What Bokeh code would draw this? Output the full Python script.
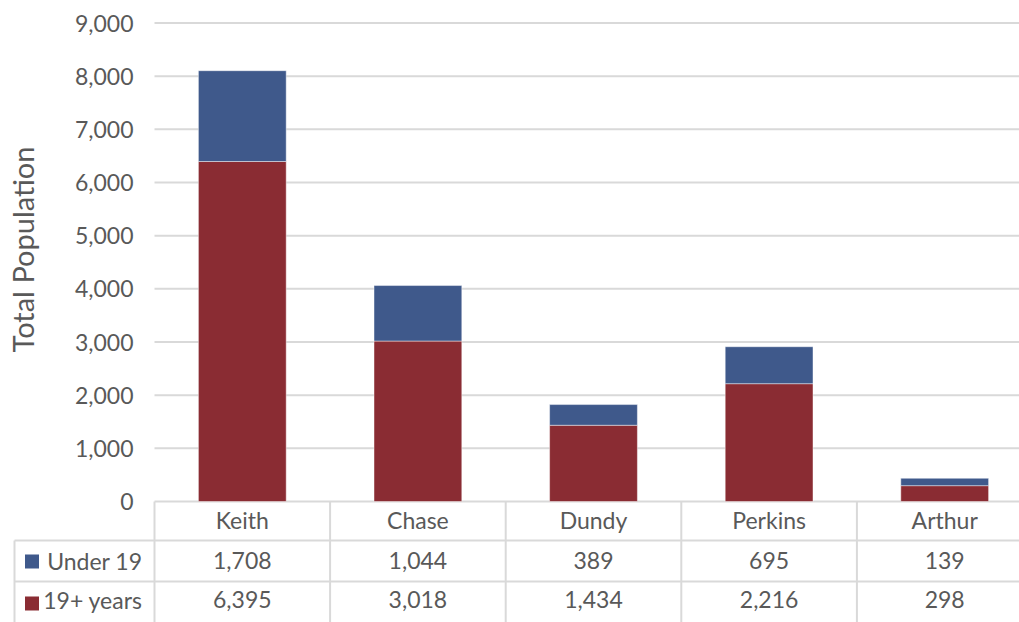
import math
from bokeh.plotting import figure
from bokeh.models import ColumnDataSource, Range1d
from bokeh.core.properties import value
from bokeh.embed import file_html
from bokeh.resources import INLINE

# ---------------- data ----------------
categories = ["Keith", "Chase", "Dundy", "Perkins", "Arthur"]
under_19 = [1708, 1044, 389, 695, 139]
years_19_plus = [6395, 3018, 1434, 2216, 298]
series_names = ["Under 19", "19+ years"]
y_ticks = [0, 1000, 2000, 3000, 4000, 5000, 6000, 7000, 8000, 9000]
y_title = "Total Population"

# ---------------- style ----------------
BLUE = "#3F598B"
RED = "#8A2C33"
GRID = "#D9D9D9"
TEXT = "#595959"
FONT = value("Lato")
FS = value("23px")

# layout, in pixels of the 1019x622 page (the Bokeh page has no body margin)
PAGE = 0
FIG_W, FIG_H = 1019, 622
PLOT_LEFT = 154          # left edge of the plot area / table body
CELL_W = 175.6           # width of one category column
ZERO_Y = 501             # pixel row of value 0
TOP_TICK_Y = 22.5        # pixel row of the top tick
px_per_unit = (ZERO_Y - TOP_TICK_Y) / y_ticks[-1]


def hx(px):
    """page pixel column -> x data coordinate"""
    return (px - PLOT_LEFT) / CELL_W


def vy(px):
    """page pixel row -> y data coordinate"""
    return (ZERO_Y - px) / px_per_unit


x_end = hx(PAGE + FIG_W)
p = figure(width=FIG_W, height=FIG_H, output_backend="svg", toolbar_location=None,
           x_axis_type=None, y_axis_type=None,
           x_range=Range1d(hx(PAGE), x_end),
           y_range=Range1d(vy(PAGE + FIG_H), vy(PAGE)),
           min_border=0)
p.outline_line_color = None
p.grid.visible = False
p.background_fill_color = "white"
p.border_fill_color = "white"

n = len(categories)
xs = [i + 0.5 for i in range(n)]

# ---------------- chart ----------------
# horizontal grid lines at the tick values (value 0 also tops the data table)
p.segment(x0=[0] * len(y_ticks), x1=[x_end + 1] * len(y_ticks), y0=y_ticks, y1=y_ticks,
          line_color=GRID, line_width=2)

src = ColumnDataSource(dict(x=xs, cat=categories, young=under_19, adult=years_19_plus))
p.vbar_stack(["adult", "young"], x="x", width=0.5, source=src,
             fill_color=[RED, BLUE], line_color="white", line_alpha=0.45, line_width=1)

# y tick labels and title
p.text(x=[hx(133)] * len(y_ticks), y=y_ticks, text=[f"{v:,}" for v in y_ticks],
       text_align="right", text_baseline="middle", text_font=FONT,
       text_font_size=FS, text_color=TEXT)
p.text(x=[hx(22)], y=[vy(249)], text=[y_title], angle=math.pi / 2,
       text_align="center", text_baseline="middle", text_font=FONT,
       text_font_size=value("29px"), text_color=TEXT)

# ---------------- data table ----------------
ROW_LINES = [vy(540), vy(581)]              # separators under header row and row 1
MIDS = [vy(519), vy(560), vy(599)]          # text centres: header, row 1, row 2
HDR_LEFT = hx(14)
BOTTOM = vy(660)

bounds = list(range(n + 1))
p.segment(x0=bounds, x1=bounds, y0=[0] * len(bounds), y1=[BOTTOM] * len(bounds),
          line_color=GRID, line_width=2)
p.segment(x0=[HDR_LEFT] * 2, x1=[x_end + 1] * 2, y0=ROW_LINES, y1=ROW_LINES,
          line_color=GRID, line_width=2)
p.segment(x0=[HDR_LEFT], x1=[HDR_LEFT], y0=[ROW_LINES[0]], y1=[BOTTOM],
          line_color=GRID, line_width=2)

# header row: category names
p.text(x=xs, y=[MIDS[0]] * n, text=categories, text_align="center",
       text_baseline="middle", text_font=FONT, text_font_size=FS, text_color=TEXT)
# value rows
for vals, mid in ((under_19, MIDS[1]), (years_19_plus, MIDS[2])):
    p.text(x=xs, y=[mid] * n, text=[f"{v:,}" for v in vals], text_align="center",
           text_baseline="middle", text_font=FONT, text_font_size=FS,
           text_color=TEXT)
# row headers with legend keys
p.text(x=[hx(142)] * 2, y=MIDS[1:], text=series_names, text_align="right",
       text_baseline="middle", text_font=FONT, text_font_size=FS, text_color=TEXT)
p.scatter(x=[hx(31.5)] * 2, y=[vy(561), vy(603)], marker="square",
          size=14, fill_color=[BLUE, RED], line_color=None)

open("out.html", "w").write(file_html(p, INLINE))
